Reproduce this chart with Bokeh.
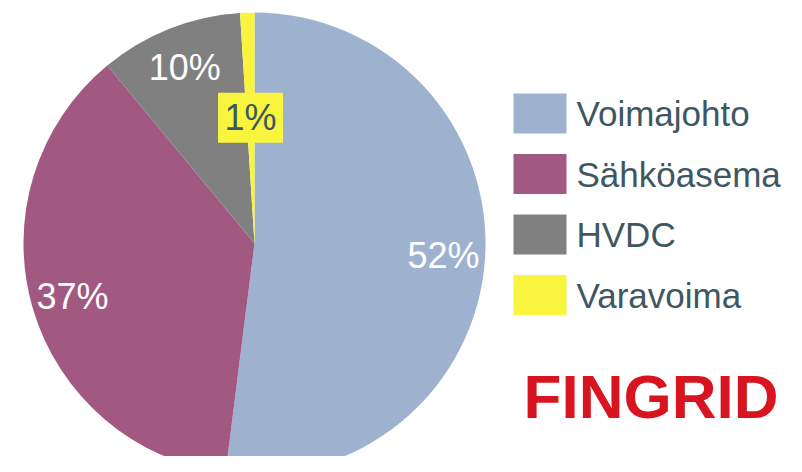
import math
from bokeh.plotting import figure
from bokeh.models import Range1d, ColumnDataSource
from bokeh.core.properties import value
from bokeh.embed import file_html
from bokeh.resources import INLINE

# ---- data ----
categories = ["Voimajohto", "Sähköasema", "HVDC", "Varavoima"]
shares = [52, 37, 10, 1]
labels = ["52%", "37%", "10%", "1%"]
colors = ["#9EB1CF", "#A15982", "#808080", "#F9F43E"]
label_colors = ["white", "white", "white", "#3E5763"]
label_radius = [0.82, 0.82, 0.82, 0.545]

W, H = 786, 456
p = figure(width=W, height=H, output_backend="svg", toolbar_location=None,
           x_range=Range1d(0, W), y_range=Range1d(-H, 0),
           x_axis_location=None, y_axis_location=None,
           min_border=0, match_aspect=False)
p.grid.visible = False
p.outline_line_color = None
p.background_fill_color = "white"

cx, cy, R = 254, -243, 231
total = float(sum(shares))
starts, ends, lx, ly = [], [], [], []
cum = 0.0
for s, lr in zip(shares, label_radius):
    a0 = math.pi / 2 - 2 * math.pi * cum / total
    cum += s
    a1 = math.pi / 2 - 2 * math.pi * cum / total
    starts.append(a0)
    ends.append(a1)
    mid = (a0 + a1) / 2
    lx.append(cx + lr * R * math.cos(mid))
    ly.append(cy + lr * R * math.sin(mid))

src = ColumnDataSource(dict(cat=categories, share=shares, start=starts, end=ends,
                            color=colors, lx=lx, ly=ly, lab=labels, lcol=label_colors))
p.wedge(x=cx, y=cy, radius=R, start_angle="start", end_angle="end", direction="clock",
        fill_color="color", line_color=None, source=src)

# label box for the tiny slice
small = ColumnDataSource(dict(x=[lx[3]], y=[ly[3]], c=[colors[3]]))
p.rect(x="x", y="y", width=65, height=50, fill_color="c", line_color=None, source=small)

p.text(x="lx", y="ly", text="lab", text_color="lcol", text_align="center",
       text_baseline="middle", text_font=value("Liberation Sans"),
       text_font_size="36px", source=src)

# legend
n = len(categories)
leg_y = [-(113 + 60.5 * i) for i in range(n)]
leg = ColumnDataSource(dict(x=[539.5] * n, y=leg_y, tx=[576] * n, c=colors, t=categories))
p.rect(x="x", y="y", width=53, height=40, fill_color="c", line_color=None, source=leg)
p.text(x="tx", y="y", text="t", text_color="#3E5763", text_align="left",
       text_baseline="middle", text_font=value("Liberation Sans"),
       text_font_size="35px", source=leg)

p.text(x=[650.5], y=[-396], text=["FINGRID"], text_color="#D7141F", text_align="center",
       text_baseline="middle", text_font=value("Liberation Sans"), text_font_style="bold",
       text_font_size="62px")

open("out.html", "w").write(file_html(p, INLINE))
